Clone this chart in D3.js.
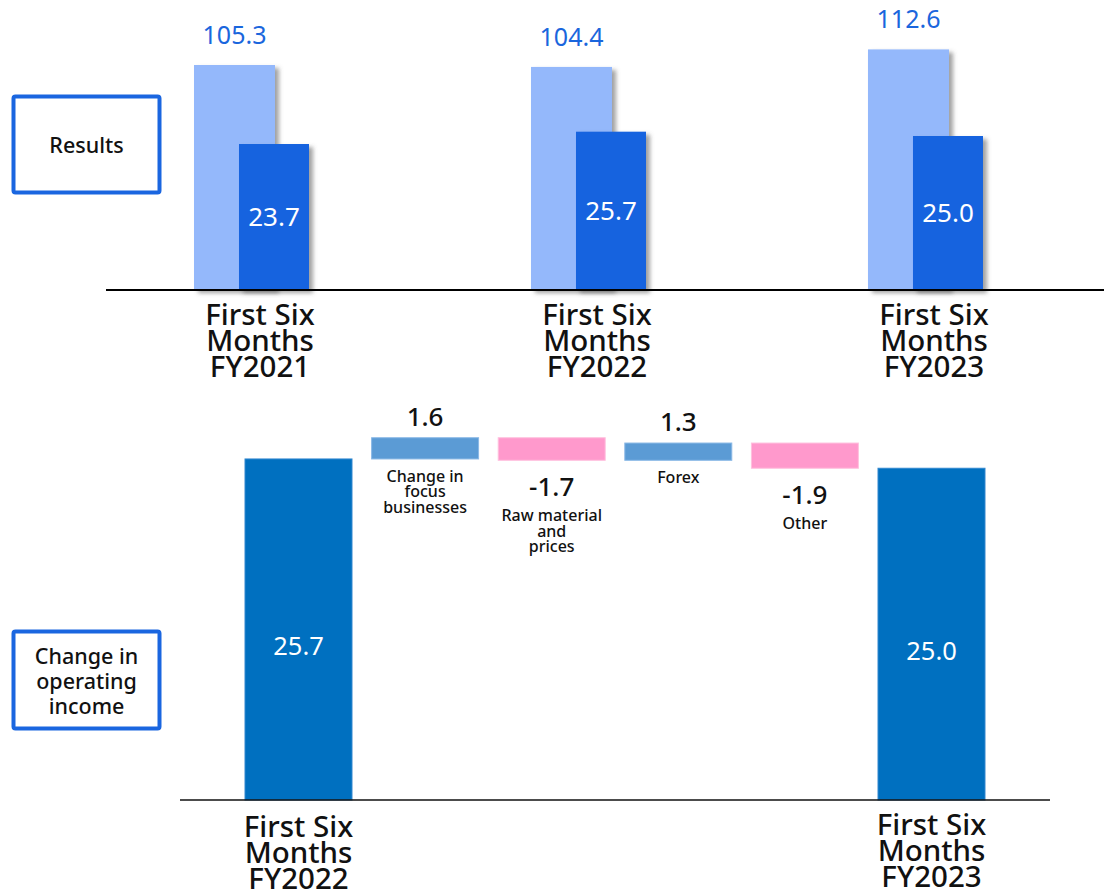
<!DOCTYPE html>
<html>
<head>
<meta charset="utf-8">
<script src="https://cdn.jsdelivr.net/npm/d3@7"></script>
<style>
  html, body { margin: 0; padding: 0; background: #fff; }
  svg { display: block; font-family: "Noto Sans", "Noto Sans CJK JP", sans-serif; }
</style>
</head>
<body>
<svg id="chart" width="1104" height="891"></svg>
<script>
// Half-year results: net sales and operating income (billion yen)
const periods = ["FY2021", "FY2022", "FY2023"];
const periodLabel = ["First Six", "Months"];
const netSales = [105.3, 104.4, 112.6];
const operatingIncome = [23.7, 25.7, 25.0];

// Operating income bridge, FY2022 -> FY2023
const bridgeSteps = ["start", "focus", "raw", "forex", "other", "end"];
const bridgeValues = [25.7, 1.6, -1.7, 1.3, -1.9, 25.0];
const bridgeNames = [
  null,
  ["Change in", "focus", "businesses"],
  ["Raw material", "and", "prices"],
  ["Forex"],
  ["Other"],
  null
];
const bridgeTotals = ["FY2022", "FY2023"];

const svg = d3.select("#chart");
const defs = svg.append("defs");
const shadow = defs.append("filter").attr("id", "barShadow")
  .attr("x", "-20%").attr("y", "-10%").attr("width", "150%").attr("height", "130%");
shadow.append("feDropShadow")
  .attr("dx", 4).attr("dy", 3).attr("stdDeviation", 2)
  .attr("flood-color", "#555").attr("flood-opacity", 0.55);

// ---------- Top panel: results ----------
const topBase = 290;
const xGroup = d3.scaleBand().domain(periods).range([25.5, 1151.4]).paddingInner(0.659).paddingOuter(0.5);
const ySales = d3.scaleLinear().domain([0, 120]).range([topBase, topBase - 256.4]);
const yIncome = d3.scaleLinear().domain([0, 40]).range([topBase, topBase - 246.4]);

const lightW = 81, darkW = 70, darkOff = 45;

const groups = svg.append("g").selectAll("g.period")
  .data(periods).join("g").attr("class", "period");

groups.append("rect")
  .attr("x", d => xGroup(d))
  .attr("y", (d, i) => ySales(netSales[i]))
  .attr("width", lightW)
  .attr("height", (d, i) => topBase - ySales(netSales[i]))
  .attr("fill", "#94b8fb")
  .attr("filter", "url(#barShadow)");

groups.append("rect")
  .attr("x", d => xGroup(d) + darkOff)
  .attr("y", (d, i) => yIncome(operatingIncome[i]))
  .attr("width", darkW)
  .attr("height", (d, i) => topBase - yIncome(operatingIncome[i]))
  .attr("fill", "#1664df")
  .attr("filter", "url(#barShadow)");

groups.append("text")
  .attr("x", d => xGroup(d) + lightW / 2)
  .attr("y", (d, i) => ySales(netSales[i]) - 21)
  .attr("text-anchor", "middle")
  .attr("font-size", 25)
  .attr("fill", "#1a66dd")
  .text((d, i) => netSales[i].toFixed(1));

groups.append("text")
  .attr("x", d => xGroup(d) + darkOff + darkW / 2)
  .attr("y", (d, i) => (yIncome(operatingIncome[i]) + topBase) / 2)
  .attr("dy", "0.36em")
  .attr("text-anchor", "middle")
  .attr("font-size", 26)
  .attr("fill", "#fff")
  .text((d, i) => operatingIncome[i].toFixed(1));

// baseline
svg.append("line")
  .attr("x1", 106).attr("x2", 1104)
  .attr("y1", topBase).attr("y2", topBase)
  .attr("stroke", "#000").attr("stroke-width", 2);

// period labels
groups.append("text")
  .attr("text-anchor", "middle")
  .attr("font-size", 29.5)
  .attr("font-weight", 500)
  .attr("fill", "#111")
  .attr("transform", d => `translate(${xGroup(d) + 66},0)`)
  .selectAll("tspan")
  .data(d => [...periodLabel, d])
  .join("tspan")
  .attr("x", 0)
  .attr("y", (d, i) => 325 + i * 26)
  .text(d => d);

// ---------- Section boxes ----------
function sectionBox(y, h, lines, lineY) {
  const g = svg.append("g");
  g.append("rect")
    .attr("x", 13.5).attr("y", y).attr("width", 146).attr("height", h)
    .attr("rx", 2)
    .attr("fill", "#fff").attr("stroke", "#1a66e0").attr("stroke-width", 4);
  g.append("text")
    .attr("text-anchor", "middle")
    .attr("font-size", 21.5)
    .attr("font-weight", 500)
    .attr("fill", "#111")
    .selectAll("tspan").data(lines).join("tspan")
    .attr("x", 86.5)
    .attr("y", (d, i) => lineY + i * 25)
    .text(d => d);
}
sectionBox(96.5, 96, ["Results"], 153);
sectionBox(631.5, 97, ["Change in", "operating", "income"], 664);

// ---------- Bottom panel: waterfall ----------
const botBase = 800;
const xStep = d3.scaleBand().domain(bridgeSteps).range([235.2, 994.8]).paddingInner(0.155).paddingOuter(0.0775);
const yBridge = d3.scaleLinear().domain([0, 30]).range([botBase, botBase - 398.1]);

// running totals for floating bars
let running = 0;
const bridge = bridgeSteps.map((k, i) => {
  const v = bridgeValues[i];
  let lo, hi, type;
  if (i === 0 || i === bridgeSteps.length - 1) {
    lo = 0; hi = v; running = v; type = "total";
  } else {
    const from = running;
    running = from + v;
    lo = Math.min(from, running); hi = Math.max(from, running);
    type = v >= 0 ? "up" : "down";
  }
  return { key: k, value: v, lo, hi, type, names: bridgeNames[i] };
});

const colour = { total: "#0070c0", up: "#5b9bd5", down: "#ff99cc" };

const bars = svg.append("g").selectAll("g.step").data(bridge).join("g").attr("class", "step");

bars.append("rect")
  .attr("x", d => xStep(d.key))
  .attr("y", d => yBridge(d.hi))
  .attr("width", xStep.bandwidth())
  .attr("height", d => yBridge(d.lo) - yBridge(d.hi))
  .attr("fill", d => colour[d.type])
  .attr("stroke", d => d.type === "total" ? "#2f86cf" : (d.type === "up" ? "#8ab8e6" : "#ffc0de"))
  .attr("stroke-width", 1);

// total labels inside the bars
bars.filter(d => d.type === "total").append("text")
  .attr("x", d => xStep(d.key) + xStep.bandwidth() / 2)
  .attr("y", d => (yBridge(d.hi) + botBase) / 2 + 26)
  .attr("text-anchor", "middle")
  .attr("font-size", 25.5)
  .attr("fill", "#fff")
  .text(d => d.value.toFixed(1));

// value labels for the factors
bars.filter(d => d.type !== "total").append("text")
  .attr("x", d => xStep(d.key) + xStep.bandwidth() / 2)
  .attr("y", d => d.type === "up" ? yBridge(d.hi) - 12 : yBridge(d.lo) + 36)
  .attr("text-anchor", "middle")
  .attr("font-size", 26)
  .attr("font-weight", 500)
  .attr("fill", "#111")
  .text(d => d.value.toFixed(1));

// factor names
bars.filter(d => d.type !== "total").append("text")
  .attr("text-anchor", "middle")
  .attr("font-size", 16)
  .attr("font-weight", 500)
  .attr("fill", "#111")
  .each(function(d) {
    const cx = xStep(d.key) + xStep.bandwidth() / 2;
    const top = d.type === "up" ? yBridge(d.lo) + 23 : yBridge(d.lo) + 61;
    d3.select(this).selectAll("tspan").data(d.names).join("tspan")
      .attr("x", cx)
      .attr("y", (n, i) => top + i * 15.5)
      .text(n => n);
  });

// baseline
svg.append("line")
  .attr("x1", 180).attr("x2", 1050)
  .attr("y1", botBase).attr("y2", botBase)
  .attr("stroke", "#111").attr("stroke-width", 1.6);

// total category labels
const totalKeys = [bridgeSteps[0], bridgeSteps[bridgeSteps.length - 1]];
svg.append("g").selectAll("text").data(totalKeys).join("text")
  .attr("text-anchor", "middle")
  .attr("font-size", 29.5)
  .attr("font-weight", 500)
  .attr("fill", "#111")
  .attr("transform", (d, i) => `translate(${xStep(d) + xStep.bandwidth() / 2},0)`)
  .each(function(d, j) {
    const lines = [...periodLabel, bridgeTotals[j]];
    const y0 = j === 0 ? 837 : 835;
    d3.select(this).selectAll("tspan").data(lines).join("tspan")
      .attr("x", 0)
      .attr("y", (n, i) => y0 + i * 26)
      .text(n => n);
  });
</script>
</body>
</html>
